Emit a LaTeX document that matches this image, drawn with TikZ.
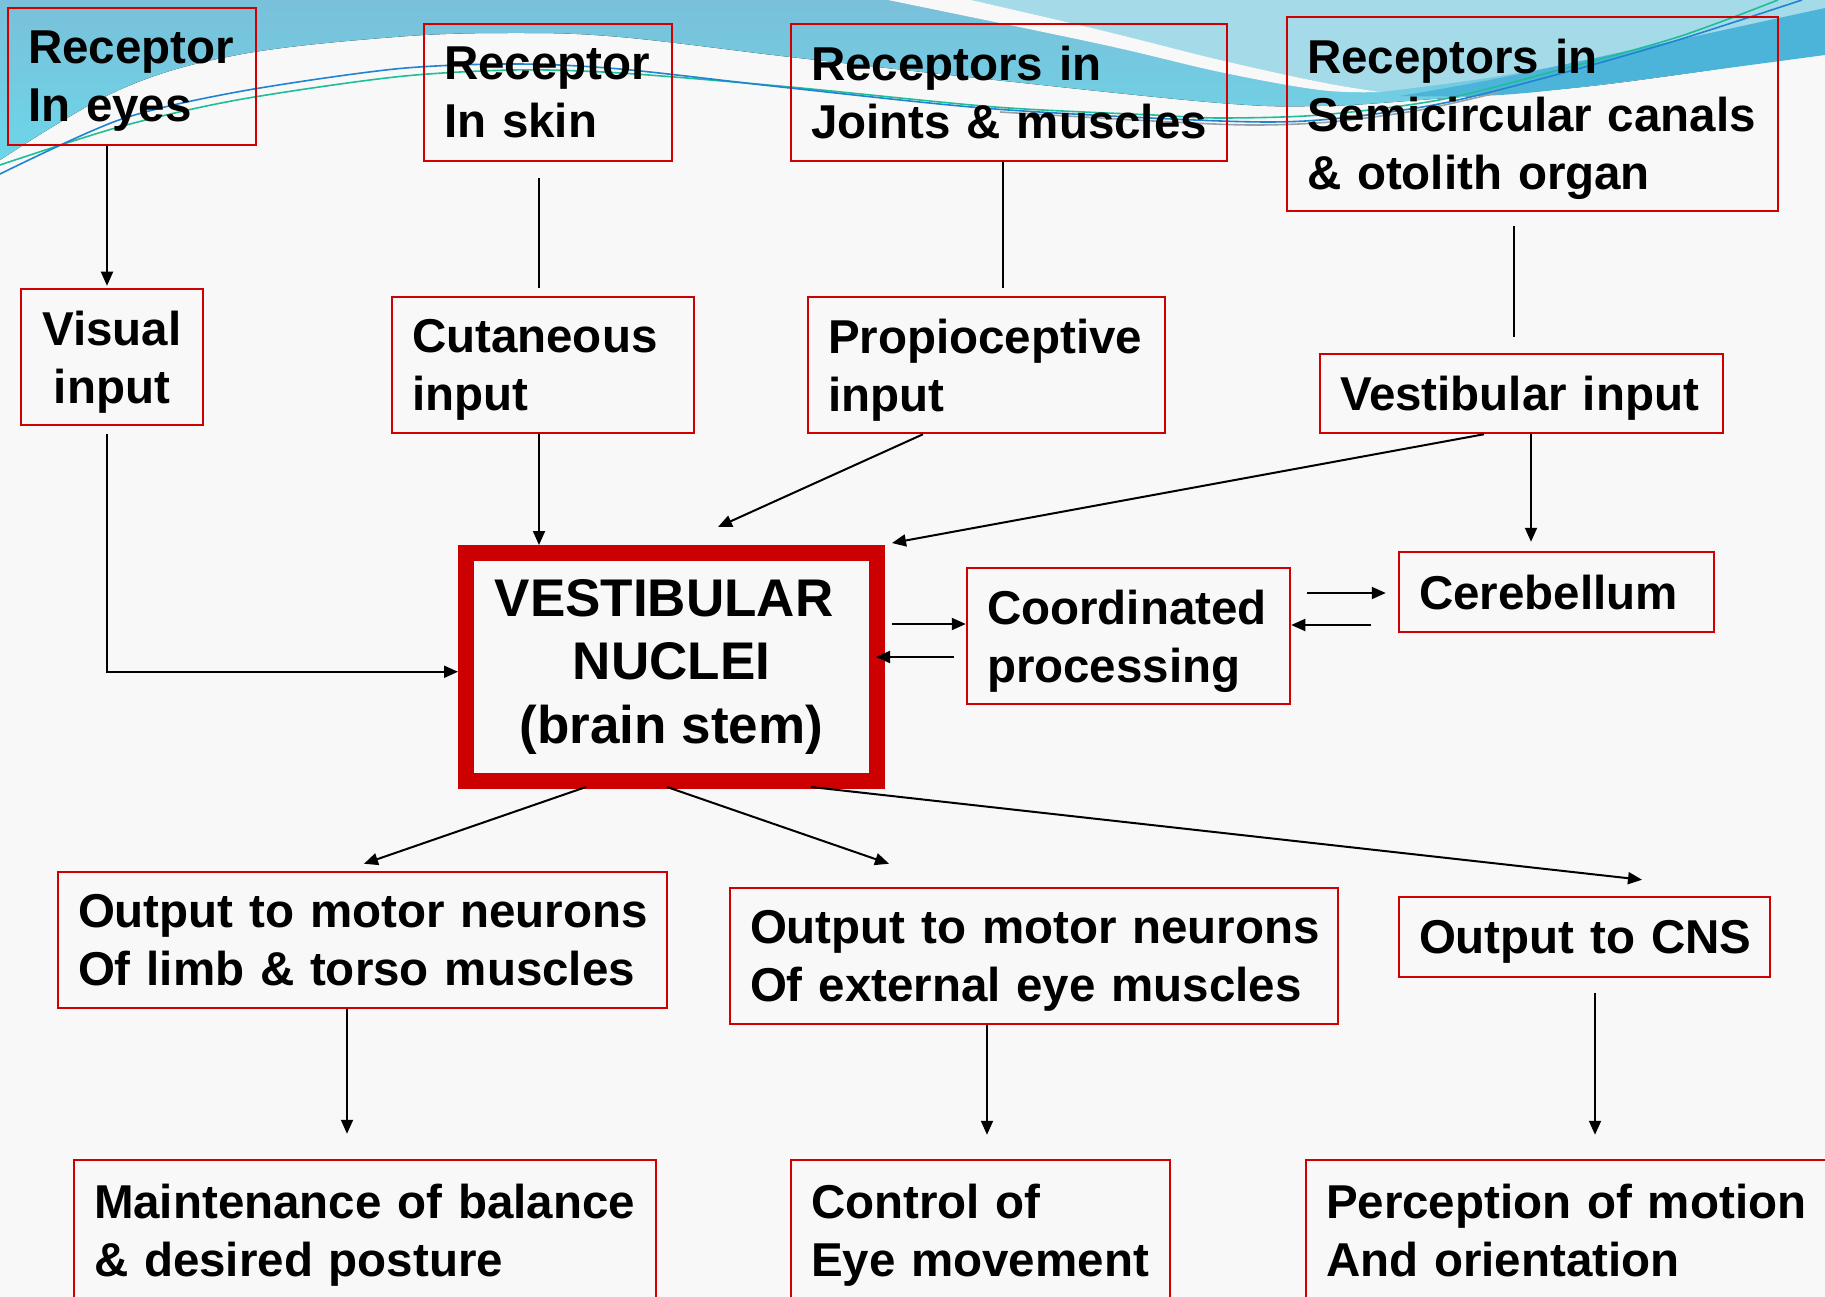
\documentclass[tikz,border=0pt]{standalone}
\usepackage{fontspec}
\setmainfont{Liberation Sans}
\usetikzlibrary{arrows.meta,calc}
\definecolor{boxred}{RGB}{208,0,0}
\definecolor{vnred}{RGB}{204,0,0}
\definecolor{bgc}{RGB}{248,248,248}
\definecolor{swA}{RGB}{122,192,218}
\definecolor{swB}{RGB}{108,214,232}
\definecolor{swLight}{RGB}{165,218,232}
\definecolor{swDark}{RGB}{76,180,216}
\definecolor{lnTeal}{RGB}{30,190,150}
\definecolor{lnBlue}{RGB}{40,100,200}
\definecolor{lnGray}{RGB}{150,160,165}
\newcommand\lastl[1]{\raisebox{0pt}[\height][0pt]{#1}}
\begin{document}
\begin{tikzpicture}[x=1pt,y=-1pt,
  box/.style={draw=boxred, line width=2.5pt, rectangle, inner xsep=20pt, inner ysep=0pt,
    align=left, font=\bfseries\fontsize{47.5}{58}\selectfont},
  vnbox/.style={draw=vnred, line width=16pt, rectangle, inner sep=0pt, align=center,
    font=\bfseries\fontsize{53}{63.5}\selectfont},
  arr/.style={draw=black, line width=2pt, -{Triangle[length=14pt,width=12pt]}},
  plain/.style={draw=black, line width=2pt},
  thinline/.style={line width=1.6pt}
]
\useasboundingbox (0,0) rectangle (1825,1297);
\clip (0,0) rectangle (1825,1297);
% background
\fill[bgc] (0,0) rectangle (1825,1297);
\fill[top color=swA, bottom color=swB] (0,0) -- (1825,0) -- (1825,53)
  -- plot[smooth, tension=0.6] coordinates {(1825,53) (1600,85) (1420,100) (1320,106) (1220,103) (995,80) (790,57) (620,37) (514,33) (395,37) (237,55) (119,90) (0,160)} -- cycle;
\fill[swLight] (971,0) -- (1825,0) -- (1825,12)
  -- plot[smooth, tension=0.6] coordinates {(1825,12) (1650,48) (1500,76) (1380,92)}
  -- plot[smooth, tension=0.6] coordinates {(1380,92) (1320,82) (1220,60) (1100,30) (971,0)} -- cycle;
\fill[bgc] plot[smooth, tension=0.6] coordinates {(971,0) (1100,30) (1220,60) (1320,82) (1380,92)}
  -- plot[smooth, tension=0.6] coordinates {(1380,92) (1320,90) (1220,72) (1100,44) (888,0)} -- cycle;
\fill[swDark] plot[smooth, tension=0.6] coordinates {(1825,8) (1650,46) (1500,78) (1400,96)}
  -- plot[smooth, tension=0.6] coordinates {(1400,96) (1500,95) (1620,82) (1825,55)} -- cycle;
\draw[thinline, lnTeal] plot[smooth] coordinates {(0,165) (119,127) (237,100) (395,77) (514,70) (620,73) (790,87) (995,107) (1153,115) (1220,118) (1320,115) (1439,100) (1559,70) (1678,37) (1778,0)};
\draw[thinline, lnBlue!80!cyan] plot[smooth] coordinates {(0,174) (119,120) (237,92) (395,69) (514,64) (620,69) (790,88) (995,109) (1220,121) (1320,120) (1439,104) (1559,74) (1678,40) (1802,0)};
\draw[thinline, lnGray] plot[smooth] coordinates {(1000,112) (1153,121) (1250,125) (1330,122) (1420,110) (1500,92)};

% boxes
\node[box, minimum width=248pt, minimum height=137pt, text width=208pt] (eyes) at (132,76.5) {\mbox{Receptor}\\\lastl{In eyes}};
\node[box, minimum width=248pt, minimum height=137pt, text width=208pt] (skin) at (548,92.5) {\mbox{Receptor}\\\lastl{In skin}};
\node[box, minimum width=436pt, minimum height=137pt, text width=396pt] (joints) at (1009,92.5) {\mbox{Receptors in}\\\lastl{Joints \& muscles}};
\node[box, minimum width=491pt, minimum height=194pt, text width=451pt] (semi) at (1532.5,114) {\mbox{Receptors in}\\\mbox{Semicircular canals}\\\lastl{\& otolith organ}};
\node[box, align=center, minimum width=182pt, minimum height=136pt, text width=142pt] (visual) at (112,357) {\mbox{Visual}\\\lastl{input}};
\node[box, minimum width=302pt, minimum height=136pt, text width=262pt] (cutaneous) at (543,365) {\mbox{Cutaneous}\\\lastl{input}};
\node[box, minimum width=357pt, minimum height=136pt, text width=317pt] (propio) at (986.5,365) {\mbox{Propioceptive}\\\lastl{input}};
\node[box, minimum width=403pt, minimum height=79pt, text width=363pt] (vestin) at (1521.5,393.5) {\lastl{Vestibular input}};
\node[vnbox, minimum width=411pt, minimum height=227.5pt] (VN) at (671.5,666.75) {VESTIBULAR\hspace*{0.278em}\\NUCLEI\\(brain stem)};
\node[box, minimum width=323pt, minimum height=136pt, text width=283pt] (coord) at (1128.5,636) {\mbox{Coordinated}\\\lastl{processing}};
\node[box, minimum width=315pt, minimum height=80pt, text width=275pt] (cereb) at (1556.5,592) {\lastl{Cerebellum}};
\node[box, minimum width=609pt, minimum height=136pt, text width=569pt] (limb) at (362.5,940) {\mbox{Output to motor neurons}\\\lastl{Of limb \& torso muscles}};
\node[box, minimum width=608pt, minimum height=136pt, text width=568pt] (eyeout) at (1034,956) {\mbox{Output to motor neurons}\\\lastl{Of external eye muscles}};
\node[box, minimum width=371pt, minimum height=80pt, text width=331pt] (cns) at (1584.5,937) {\lastl{Output to CNS}};
\node[box, minimum width=582pt, minimum height=140pt, text width=542pt] (maint) at (365,1230) {\mbox{Maintenance of balance}\\\lastl{\& desired posture}};
\node[box, minimum width=379pt, minimum height=140pt, text width=339pt] (control) at (980.5,1230) {\mbox{Control of}\\\lastl{Eye movement}};
\node[box, minimum width=544pt, minimum height=140pt, text width=504pt] (percep) at (1578,1230) {\mbox{Perception of motion}\\\lastl{And orientation}};

% connectors
\draw[arr] ($(eyes.south)+(-25,0)$) -- ($(visual.north)+(-5,-2)$);
\draw[plain] ($(skin.south)+(-9,16)$) -- ($(cutaneous.north)+(-4,-8)$);
\draw[plain] ($(joints.south)+(-6,0)$) -- ($(propio.north)+(16.5,-8)$);
\draw[plain] ($(semi.south)+(-18.5,14)$) -- ($(vestin.north)+(-7.5,-16)$);
\draw[arr] ($(visual.south)+(-5,8)$) |- ($(VN.west)+(0,5)$);
\coordinate (c1) at ($(cutaneous.south)+(-4,0)$);
\draw[arr] (c1) -- (c1 |- VN.north);
\draw[arr] ($(propio.south)+(-63.5,0)$) -- ($(VN.north)+(46.5,-18)$);
\draw[arr] ($(vestin.south)+(-37.5,0)$) -- ($(VN.north east)+(7,-2)$);
\coordinate (c2) at ($(vestin.south)+(9.5,0)$);
\draw[arr] (c2) -- ($(c2 |- cereb.north)+(0,-9)$);
\coordinate (c3) at ($(VN.east)+(7,-42.75)$);
\draw[arr] (c3) -- (c3 -| coord.west);
\coordinate (c4) at ($(coord.west)+(-12,21)$);
\draw[arr] (c4) -- ($(c4 -| VN.east)+(-9,0)$);
\coordinate (c5) at ($(coord.east)+(16,-43)$);
\draw[arr] (c5) -- ($(c5 -| cereb.west)+(-12,0)$);
\coordinate (c6) at ($(cereb.west)+(-27,33)$);
\draw[arr] (c6) -- (c6 -| coord.east);
\draw[arr] ($(VN.south)+(-85.5,-1.5)$) -- ($(limb.north)+(1.5,-7)$);
\draw[arr] ($(VN.south)+(-4.5,-1.5)$) -- ($(eyeout.north)+(-145,-23)$);
\draw[arr] ($(VN.south)+(139.5,-1.5)$) -- ($(cns.north)+(57.5,-16)$);
\coordinate (c7) at ($(limb.south)+(-15.5,0)$);
\draw[arr] (c7) -- ($(c7 |- maint.north)+(0,-25)$);
\coordinate (c8) at ($(eyeout.south)+(-47,0)$);
\draw[arr] (c8) -- ($(c8 |- control.north)+(0,-24)$);
\coordinate (c9) at ($(cns.south)+(10.5,15)$);
\draw[arr] (c9) -- ($(c9 |- percep.north)+(0,-24)$);
\end{tikzpicture}
\end{document}
